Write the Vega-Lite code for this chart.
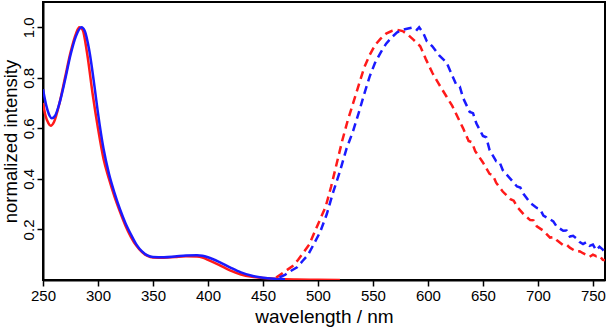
{
  "$schema": "https://vega.github.io/schema/vega-lite/v6.json",
  "autosize": {"type": "none"},
  "padding": {"left": 43, "top": 2, "right": 2, "bottom": 49},
  "width": 562,
  "height": 278,
  "background": "white",
  "config": {
    "view": {"stroke": "black", "strokeWidth": 2},
    "font": "Liberation Sans",
    "axis": {
      "grid": false,
      "domainColor": "black",
      "domainWidth": 2,
      "tickColor": "black",
      "tickWidth": 1.5,
      "tickSize": 6,
      "labelColor": "black",
      "labelFont": "Liberation Sans",
      "labelFontSize": 15,
      "labelFlush": false,
      "labelOverlap": false,
      "titleColor": "black",
      "titleFont": "Liberation Sans",
      "titleFontSize": 18.5,
      "titleFontWeight": "normal"
    }
  },
  "data": {"values": [
    {"wl": 250, "v": 0.70, "s": "A", "k": "abs"},
    {"wl": 252, "v": 0.655, "s": "A", "k": "abs"},
    {"wl": 255, "v": 0.62, "s": "A", "k": "abs"},
    {"wl": 257, "v": 0.61, "s": "A", "k": "abs"},
    {"wl": 260, "v": 0.625, "s": "A", "k": "abs"},
    {"wl": 265, "v": 0.70, "s": "A", "k": "abs"},
    {"wl": 270, "v": 0.80, "s": "A", "k": "abs"},
    {"wl": 275, "v": 0.90, "s": "A", "k": "abs"},
    {"wl": 280, "v": 0.975, "s": "A", "k": "abs"},
    {"wl": 283, "v": 1.0, "s": "A", "k": "abs"},
    {"wl": 286, "v": 0.99, "s": "A", "k": "abs"},
    {"wl": 290, "v": 0.90, "s": "A", "k": "abs"},
    {"wl": 295, "v": 0.74, "s": "A", "k": "abs"},
    {"wl": 300, "v": 0.60, "s": "A", "k": "abs"},
    {"wl": 305, "v": 0.48, "s": "A", "k": "abs"},
    {"wl": 310, "v": 0.40, "s": "A", "k": "abs"},
    {"wl": 315, "v": 0.33, "s": "A", "k": "abs"},
    {"wl": 320, "v": 0.27, "s": "A", "k": "abs"},
    {"wl": 325, "v": 0.215, "s": "A", "k": "abs"},
    {"wl": 330, "v": 0.17, "s": "A", "k": "abs"},
    {"wl": 335, "v": 0.135, "s": "A", "k": "abs"},
    {"wl": 340, "v": 0.11, "s": "A", "k": "abs"},
    {"wl": 345, "v": 0.095, "s": "A", "k": "abs"},
    {"wl": 350, "v": 0.089, "s": "A", "k": "abs"},
    {"wl": 360, "v": 0.088, "s": "A", "k": "abs"},
    {"wl": 370, "v": 0.091, "s": "A", "k": "abs"},
    {"wl": 380, "v": 0.094, "s": "A", "k": "abs"},
    {"wl": 390, "v": 0.093, "s": "A", "k": "abs"},
    {"wl": 395, "v": 0.089, "s": "A", "k": "abs"},
    {"wl": 400, "v": 0.08, "s": "A", "k": "abs"},
    {"wl": 410, "v": 0.06, "s": "A", "k": "abs"},
    {"wl": 420, "v": 0.038, "s": "A", "k": "abs"},
    {"wl": 430, "v": 0.022, "s": "A", "k": "abs"},
    {"wl": 440, "v": 0.013, "s": "A", "k": "abs"},
    {"wl": 450, "v": 0.008, "s": "A", "k": "abs"},
    {"wl": 460, "v": 0.005, "s": "A", "k": "abs"},
    {"wl": 470, "v": 0.003, "s": "A", "k": "abs"},
    {"wl": 480, "v": 0.002, "s": "A", "k": "abs"},
    {"wl": 500, "v": 0.001, "s": "A", "k": "abs"},
    {"wl": 520, "v": 0.0, "s": "A", "k": "abs"},
    {"wl": 250, "v": 0.755, "s": "B", "k": "abs"},
    {"wl": 253, "v": 0.69, "s": "B", "k": "abs"},
    {"wl": 256, "v": 0.65, "s": "B", "k": "abs"},
    {"wl": 258, "v": 0.64, "s": "B", "k": "abs"},
    {"wl": 261, "v": 0.65, "s": "B", "k": "abs"},
    {"wl": 265, "v": 0.70, "s": "B", "k": "abs"},
    {"wl": 270, "v": 0.79, "s": "B", "k": "abs"},
    {"wl": 275, "v": 0.89, "s": "B", "k": "abs"},
    {"wl": 280, "v": 0.965, "s": "B", "k": "abs"},
    {"wl": 285, "v": 1.0, "s": "B", "k": "abs"},
    {"wl": 288, "v": 0.985, "s": "B", "k": "abs"},
    {"wl": 292, "v": 0.91, "s": "B", "k": "abs"},
    {"wl": 297, "v": 0.76, "s": "B", "k": "abs"},
    {"wl": 300, "v": 0.66, "s": "B", "k": "abs"},
    {"wl": 305, "v": 0.52, "s": "B", "k": "abs"},
    {"wl": 310, "v": 0.42, "s": "B", "k": "abs"},
    {"wl": 315, "v": 0.345, "s": "B", "k": "abs"},
    {"wl": 320, "v": 0.28, "s": "B", "k": "abs"},
    {"wl": 325, "v": 0.225, "s": "B", "k": "abs"},
    {"wl": 330, "v": 0.18, "s": "B", "k": "abs"},
    {"wl": 335, "v": 0.14, "s": "B", "k": "abs"},
    {"wl": 340, "v": 0.113, "s": "B", "k": "abs"},
    {"wl": 345, "v": 0.097, "s": "B", "k": "abs"},
    {"wl": 350, "v": 0.091, "s": "B", "k": "abs"},
    {"wl": 360, "v": 0.09, "s": "B", "k": "abs"},
    {"wl": 370, "v": 0.093, "s": "B", "k": "abs"},
    {"wl": 380, "v": 0.097, "s": "B", "k": "abs"},
    {"wl": 390, "v": 0.098, "s": "B", "k": "abs"},
    {"wl": 395, "v": 0.096, "s": "B", "k": "abs"},
    {"wl": 400, "v": 0.09, "s": "B", "k": "abs"},
    {"wl": 410, "v": 0.072, "s": "B", "k": "abs"},
    {"wl": 420, "v": 0.05, "s": "B", "k": "abs"},
    {"wl": 430, "v": 0.03, "s": "B", "k": "abs"},
    {"wl": 440, "v": 0.017, "s": "B", "k": "abs"},
    {"wl": 450, "v": 0.009, "s": "B", "k": "abs"},
    {"wl": 460, "v": 0.005, "s": "B", "k": "abs"},
    {"wl": 470, "v": 0.003, "s": "B", "k": "abs"},
    {"wl": 462, "v": 0.01, "s": "A", "k": "em"},
    {"wl": 467, "v": 0.025, "s": "A", "k": "em"},
    {"wl": 472, "v": 0.04, "s": "A", "k": "em"},
    {"wl": 477, "v": 0.055, "s": "A", "k": "em"},
    {"wl": 482, "v": 0.08, "s": "A", "k": "em"},
    {"wl": 487, "v": 0.11, "s": "A", "k": "em"},
    {"wl": 492, "v": 0.14, "s": "A", "k": "em"},
    {"wl": 497, "v": 0.19, "s": "A", "k": "em"},
    {"wl": 502, "v": 0.24, "s": "A", "k": "em"},
    {"wl": 507, "v": 0.29, "s": "A", "k": "em"},
    {"wl": 512, "v": 0.37, "s": "A", "k": "em"},
    {"wl": 517, "v": 0.46, "s": "A", "k": "em"},
    {"wl": 522, "v": 0.55, "s": "A", "k": "em"},
    {"wl": 527, "v": 0.63, "s": "A", "k": "em"},
    {"wl": 532, "v": 0.70, "s": "A", "k": "em"},
    {"wl": 537, "v": 0.77, "s": "A", "k": "em"},
    {"wl": 542, "v": 0.84, "s": "A", "k": "em"},
    {"wl": 547, "v": 0.89, "s": "A", "k": "em"},
    {"wl": 552, "v": 0.93, "s": "A", "k": "em"},
    {"wl": 557, "v": 0.955, "s": "A", "k": "em"},
    {"wl": 562, "v": 0.975, "s": "A", "k": "em"},
    {"wl": 567, "v": 0.985, "s": "A", "k": "em"},
    {"wl": 572, "v": 0.99, "s": "A", "k": "em"},
    {"wl": 577, "v": 0.985, "s": "A", "k": "em"},
    {"wl": 582, "v": 0.97, "s": "A", "k": "em"},
    {"wl": 587, "v": 0.95, "s": "A", "k": "em"},
    {"wl": 593, "v": 0.925, "s": "A", "k": "em"},
    {"wl": 598, "v": 0.875, "s": "A", "k": "em"},
    {"wl": 604, "v": 0.82, "s": "A", "k": "em"},
    {"wl": 610, "v": 0.775, "s": "A", "k": "em"},
    {"wl": 617, "v": 0.725, "s": "A", "k": "em"},
    {"wl": 622, "v": 0.69, "s": "A", "k": "em"},
    {"wl": 627, "v": 0.645, "s": "A", "k": "em"},
    {"wl": 632, "v": 0.6, "s": "A", "k": "em"},
    {"wl": 637, "v": 0.55, "s": "A", "k": "em"},
    {"wl": 640, "v": 0.545, "s": "A", "k": "em"},
    {"wl": 643, "v": 0.51, "s": "A", "k": "em"},
    {"wl": 650, "v": 0.465, "s": "A", "k": "em"},
    {"wl": 656, "v": 0.42, "s": "A", "k": "em"},
    {"wl": 659, "v": 0.415, "s": "A", "k": "em"},
    {"wl": 662, "v": 0.385, "s": "A", "k": "em"},
    {"wl": 668, "v": 0.35, "s": "A", "k": "em"},
    {"wl": 675, "v": 0.32, "s": "A", "k": "em"},
    {"wl": 678, "v": 0.314, "s": "A", "k": "em"},
    {"wl": 681, "v": 0.29, "s": "A", "k": "em"},
    {"wl": 687, "v": 0.26, "s": "A", "k": "em"},
    {"wl": 693, "v": 0.237, "s": "A", "k": "em"},
    {"wl": 696, "v": 0.236, "s": "A", "k": "em"},
    {"wl": 699, "v": 0.212, "s": "A", "k": "em"},
    {"wl": 705, "v": 0.195, "s": "A", "k": "em"},
    {"wl": 711, "v": 0.168, "s": "A", "k": "em"},
    {"wl": 714, "v": 0.17, "s": "A", "k": "em"},
    {"wl": 717, "v": 0.158, "s": "A", "k": "em"},
    {"wl": 723, "v": 0.138, "s": "A", "k": "em"},
    {"wl": 726, "v": 0.14, "s": "A", "k": "em"},
    {"wl": 729, "v": 0.128, "s": "A", "k": "em"},
    {"wl": 735, "v": 0.112, "s": "A", "k": "em"},
    {"wl": 738, "v": 0.114, "s": "A", "k": "em"},
    {"wl": 741, "v": 0.106, "s": "A", "k": "em"},
    {"wl": 744, "v": 0.1, "s": "A", "k": "em"},
    {"wl": 747, "v": 0.092, "s": "A", "k": "em"},
    {"wl": 750, "v": 0.1, "s": "A", "k": "em"},
    {"wl": 753, "v": 0.094, "s": "A", "k": "em"},
    {"wl": 756, "v": 0.096, "s": "A", "k": "em"},
    {"wl": 759, "v": 0.08, "s": "A", "k": "em"},
    {"wl": 761, "v": 0.078, "s": "A", "k": "em"},
    {"wl": 465, "v": 0.01, "s": "B", "k": "em"},
    {"wl": 470, "v": 0.02, "s": "B", "k": "em"},
    {"wl": 475, "v": 0.035, "s": "B", "k": "em"},
    {"wl": 481, "v": 0.05, "s": "B", "k": "em"},
    {"wl": 486, "v": 0.075, "s": "B", "k": "em"},
    {"wl": 491, "v": 0.10, "s": "B", "k": "em"},
    {"wl": 496, "v": 0.14, "s": "B", "k": "em"},
    {"wl": 502, "v": 0.19, "s": "B", "k": "em"},
    {"wl": 508, "v": 0.26, "s": "B", "k": "em"},
    {"wl": 514, "v": 0.35, "s": "B", "k": "em"},
    {"wl": 520, "v": 0.43, "s": "B", "k": "em"},
    {"wl": 526, "v": 0.52, "s": "B", "k": "em"},
    {"wl": 532, "v": 0.59, "s": "B", "k": "em"},
    {"wl": 537, "v": 0.66, "s": "B", "k": "em"},
    {"wl": 542, "v": 0.735, "s": "B", "k": "em"},
    {"wl": 547, "v": 0.805, "s": "B", "k": "em"},
    {"wl": 552, "v": 0.86, "s": "B", "k": "em"},
    {"wl": 557, "v": 0.90, "s": "B", "k": "em"},
    {"wl": 562, "v": 0.935, "s": "B", "k": "em"},
    {"wl": 567, "v": 0.96, "s": "B", "k": "em"},
    {"wl": 572, "v": 0.98, "s": "B", "k": "em"},
    {"wl": 577, "v": 0.99, "s": "B", "k": "em"},
    {"wl": 582, "v": 0.995, "s": "B", "k": "em"},
    {"wl": 587, "v": 1.0, "s": "B", "k": "em"},
    {"wl": 590, "v": 0.99, "s": "B", "k": "em"},
    {"wl": 592, "v": 1.0, "s": "B", "k": "em"},
    {"wl": 596, "v": 0.975, "s": "B", "k": "em"},
    {"wl": 599, "v": 0.945, "s": "B", "k": "em"},
    {"wl": 604, "v": 0.925, "s": "B", "k": "em"},
    {"wl": 610, "v": 0.89, "s": "B", "k": "em"},
    {"wl": 617, "v": 0.86, "s": "B", "k": "em"},
    {"wl": 621, "v": 0.82, "s": "B", "k": "em"},
    {"wl": 626, "v": 0.77, "s": "B", "k": "em"},
    {"wl": 629, "v": 0.765, "s": "B", "k": "em"},
    {"wl": 632, "v": 0.72, "s": "B", "k": "em"},
    {"wl": 638, "v": 0.665, "s": "B", "k": "em"},
    {"wl": 641, "v": 0.66, "s": "B", "k": "em"},
    {"wl": 644, "v": 0.62, "s": "B", "k": "em"},
    {"wl": 650, "v": 0.57, "s": "B", "k": "em"},
    {"wl": 653, "v": 0.565, "s": "B", "k": "em"},
    {"wl": 656, "v": 0.515, "s": "B", "k": "em"},
    {"wl": 662, "v": 0.47, "s": "B", "k": "em"},
    {"wl": 665, "v": 0.468, "s": "B", "k": "em"},
    {"wl": 668, "v": 0.435, "s": "B", "k": "em"},
    {"wl": 675, "v": 0.40, "s": "B", "k": "em"},
    {"wl": 681, "v": 0.37, "s": "B", "k": "em"},
    {"wl": 684, "v": 0.366, "s": "B", "k": "em"},
    {"wl": 687, "v": 0.34, "s": "B", "k": "em"},
    {"wl": 693, "v": 0.305, "s": "B", "k": "em"},
    {"wl": 699, "v": 0.285, "s": "B", "k": "em"},
    {"wl": 702, "v": 0.28, "s": "B", "k": "em"},
    {"wl": 705, "v": 0.255, "s": "B", "k": "em"},
    {"wl": 711, "v": 0.24, "s": "B", "k": "em"},
    {"wl": 714, "v": 0.232, "s": "B", "k": "em"},
    {"wl": 717, "v": 0.212, "s": "B", "k": "em"},
    {"wl": 723, "v": 0.195, "s": "B", "k": "em"},
    {"wl": 726, "v": 0.196, "s": "B", "k": "em"},
    {"wl": 729, "v": 0.172, "s": "B", "k": "em"},
    {"wl": 732, "v": 0.175, "s": "B", "k": "em"},
    {"wl": 735, "v": 0.165, "s": "B", "k": "em"},
    {"wl": 738, "v": 0.15, "s": "B", "k": "em"},
    {"wl": 741, "v": 0.142, "s": "B", "k": "em"},
    {"wl": 744, "v": 0.15, "s": "B", "k": "em"},
    {"wl": 747, "v": 0.135, "s": "B", "k": "em"},
    {"wl": 750, "v": 0.14, "s": "B", "k": "em"},
    {"wl": 753, "v": 0.118, "s": "B", "k": "em"},
    {"wl": 756, "v": 0.132, "s": "B", "k": "em"},
    {"wl": 759, "v": 0.12, "s": "B", "k": "em"},
    {"wl": 761, "v": 0.11, "s": "B", "k": "em"}
  ]},
  "encoding": {
    "x": {
      "field": "wl", "type": "quantitative",
      "scale": {"domain": [250, 761], "nice": false, "zero": false},
      "axis": {"values": [250, 300, 350, 400, 450, 500, 550, 600, 650, 700, 750], "title": "wavelength / nm", "titleFontSize": 19, "titlePadding": 4, "labelPadding": 2}
    },
    "y": {
      "field": "v", "type": "quantitative",
      "scale": {"domain": [0, 1.1], "nice": false},
      "axis": {"values": [0.2, 0.4, 0.6, 0.8, 1.0], "format": ".1f", "title": "normalized intensity", "labelAngle": -90, "labelAlign": "center", "labelBaseline": "bottom", "labelPadding": 1, "titlePadding": 1}
    },
    "color": {"field": "s", "type": "nominal", "scale": {"domain": ["A", "B"], "range": ["#ff1a1a", "#1a1aff"]}, "legend": null}
  },
  "layer": [
    {
      "transform": [{"filter": "datum.k === 'abs'"}],
      "mark": {"type": "line", "strokeWidth": 2.5, "clip": true, "interpolate": "monotone"}
    },
    {
      "transform": [{"filter": "datum.k === 'em'"}],
      "mark": {"type": "line", "strokeWidth": 2.5, "strokeDash": [8, 5], "clip": true}
    }
  ]
}
